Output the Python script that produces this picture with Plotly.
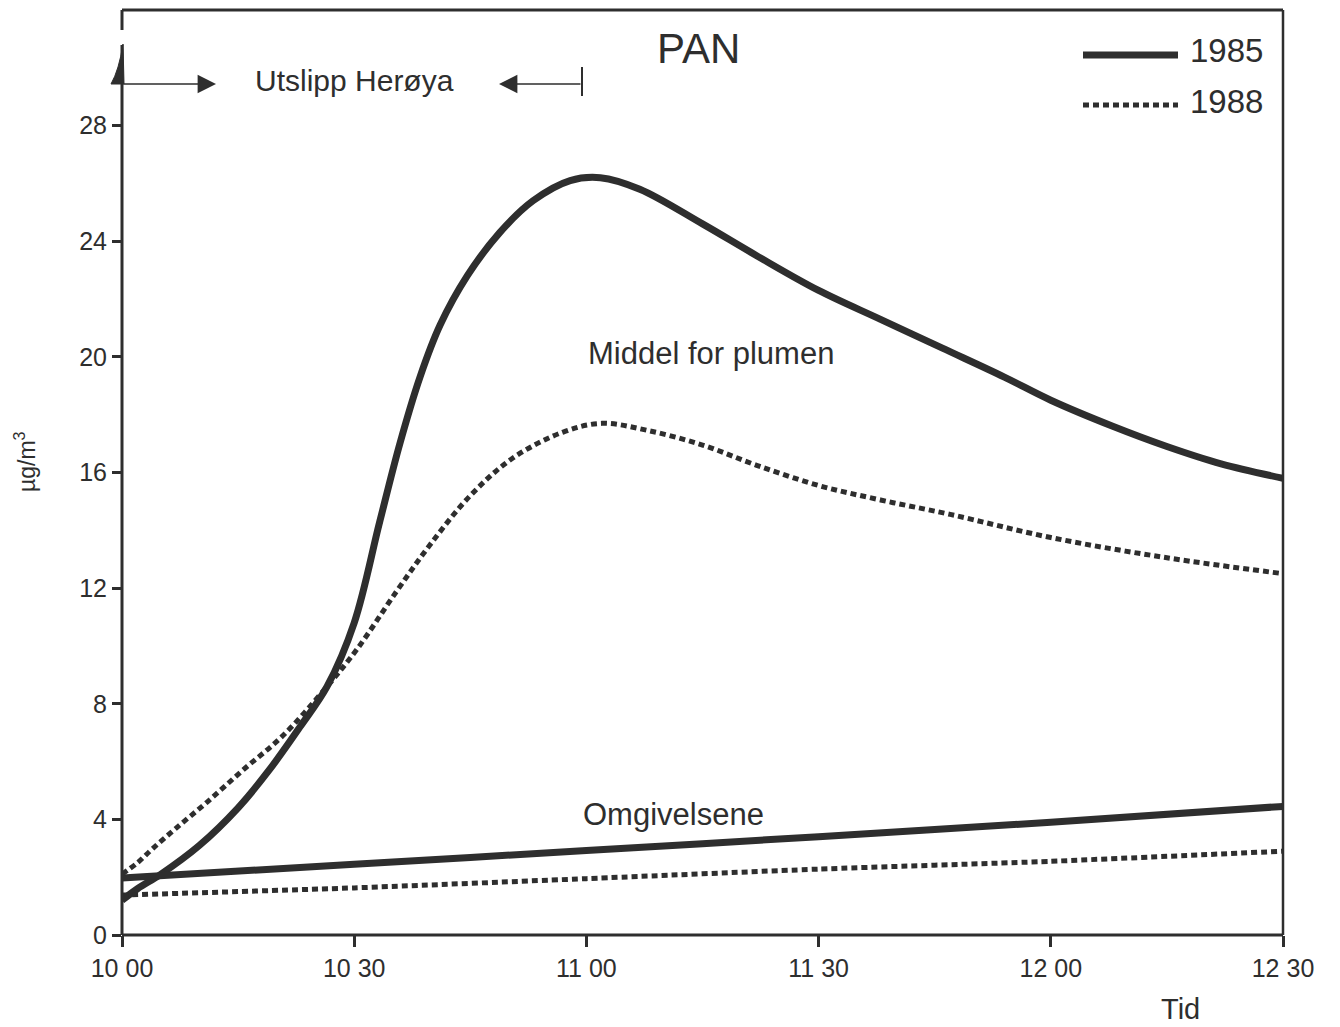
import plotly.graph_objects as go

# ---- data (minutes after 10:00, concentration in µg/m³) ----
plume_1985_t = [0, 2, 5, 10, 15, 19, 23, 26.5, 30, 33.3, 35.9, 38.5, 41.1, 44.6, 48.8, 53.1, 57.9, 61.8, 66.9, 75, 82, 90, 98, 106, 114, 120, 128, 135, 142, 150]
plume_1985_v = [1.2, 1.6, 2.1, 3.1, 4.4, 5.7, 7.2, 8.6, 10.8, 14.3, 17.0, 19.3, 21.1, 22.8, 24.3, 25.4, 26.1, 26.2, 25.8, 24.6, 23.5, 22.3, 21.3, 20.3, 19.3, 18.5, 17.6, 16.9, 16.3, 15.8]

plume_1988_t = [0, 2, 4, 7, 11, 15.6, 20.8, 26.5, 30.4, 35.5, 39.8, 45, 50.5, 57, 62, 68, 75, 82, 90, 98, 107, 120, 135, 150]
plume_1988_v = [2.1, 2.5, 3.0, 3.7, 4.6, 5.7, 6.9, 8.6, 9.9, 11.9, 13.5, 15.2, 16.5, 17.4, 17.7, 17.45, 16.95, 16.25, 15.55, 15.05, 14.55, 13.75, 13.05, 12.5]

amb_1985_t = [0, 30, 60, 90, 120, 150]
amb_1985_v = [1.97, 2.45, 2.92, 3.4, 3.9, 4.45]

amb_1988_t = [0, 30, 60, 90, 120, 150]
amb_1988_v = [1.38, 1.63, 1.95, 2.28, 2.55, 2.9]

x_tickvals = [0, 30, 60, 90, 120, 150]
x_ticktext = ["10 00", "10 30", "11 00", "11 30", "12 00", "12 30"]
y_tickvals = [0, 4, 8, 12, 16, 20, 24, 28]

INK = "#2e2e2e"
FONT = "Liberation Sans, Arial, sans-serif"
SOLID_W = 7
DOT_W = 5
DOT_DASH = "6px,4px"

# plot area in pixels (for placing paper-referenced decorations)
L, R, T, B = 122, 1283, 10, 935


def px(xp):
    return (xp - L) / (R - L)


def py(yp):
    return (B - yp) / (B - T)


fig = go.Figure()
fig.add_trace(go.Scatter(x=plume_1985_t, y=plume_1985_v, mode="lines",
                         line=dict(color=INK, width=SOLID_W, shape="spline", smoothing=1.0),
                         name="1985", showlegend=False))
fig.add_trace(go.Scatter(x=amb_1985_t, y=amb_1985_v, mode="lines",
                         line=dict(color=INK, width=SOLID_W, shape="spline", smoothing=0.6),
                         name="1985 omg", showlegend=False))
fig.add_trace(go.Scatter(x=plume_1988_t, y=plume_1988_v, mode="lines",
                         line=dict(color=INK, width=DOT_W, dash=DOT_DASH, shape="spline", smoothing=1.0),
                         name="1988", showlegend=False))
fig.add_trace(go.Scatter(x=amb_1988_t, y=amb_1988_v, mode="lines",
                         line=dict(color=INK, width=DOT_W, dash=DOT_DASH, shape="spline", smoothing=0.6),
                         name="1988 omg", showlegend=False))

shapes = []
# frame: bottom, right, top, left (left with a break near the top)
shapes.append(dict(type="line", xref="paper", yref="paper", x0=0, x1=1, y0=0, y1=0, line=dict(color=INK, width=3)))
shapes.append(dict(type="line", xref="paper", yref="paper", x0=1, x1=1, y0=0, y1=1, line=dict(color=INK, width=2.5)))
shapes.append(dict(type="line", xref="paper", yref="paper", x0=0, x1=1, y0=1, y1=1, line=dict(color=INK, width=3)))
shapes.append(dict(type="line", xref="paper", yref="paper", x0=0, x1=0, y0=0, y1=py(45), line=dict(color=INK, width=3)))
shapes.append(dict(type="line", xref="paper", yref="paper", x0=0, x1=0, y0=py(30), y1=1, line=dict(color=INK, width=3)))
# small hook at the axis break
shapes.append(dict(type="path", xref="paper", yref="paper",
                   path=f"M {px(111)},{py(84)} Q {px(119)},{py(70)} {px(123)},{py(44)} L {px(124)},{py(84)} Z",
                   fillcolor=INK, line=dict(color=INK, width=1)))
# end bar of emission arrow
shapes.append(dict(type="line", xref="paper", yref="paper", x0=px(582), x1=px(582), y0=py(96), y1=py(67),
                   line=dict(color=INK, width=2)))
# legend samples
shapes.append(dict(type="line", xref="paper", yref="paper",
                   x0=px(1083), x1=px(1178), y0=py(55), y1=py(55),
                   line=dict(color=INK, width=SOLID_W)))
shapes.append(dict(type="line", xref="paper", yref="paper",
                   x0=px(1083), x1=px(1178), y0=py(105), y1=py(105),
                   line=dict(color=INK, width=DOT_W, dash=DOT_DASH)))

annotations = [
    dict(text="PAN", x=px(698), y=py(48), xref="paper", yref="paper",
         xanchor="center", yanchor="middle", showarrow=False, font=dict(size=42, color=INK, family=FONT)),
    dict(text="1985", x=px(1188), y=py(50), xref="paper", yref="paper",
         xanchor="left", yanchor="middle", showarrow=False, font=dict(size=33, color=INK, family=FONT)),
    dict(text="1988", x=px(1188), y=py(102), xref="paper", yref="paper",
         xanchor="left", yanchor="middle", showarrow=False, font=dict(size=33, color=INK, family=FONT)),
    dict(text="Utslipp Herøya", x=px(354), y=py(80), xref="paper", yref="paper",
         xanchor="center", yanchor="middle", showarrow=False, font=dict(size=30, color=INK, family=FONT)),
    dict(text="Middel for plumen", x=px(711), y=py(353), xref="paper", yref="paper",
         xanchor="center", yanchor="middle", showarrow=False, font=dict(size=31, color=INK, family=FONT)),
    dict(text="Omgivelsene", x=px(673), y=py(814), xref="paper", yref="paper",
         xanchor="center", yanchor="middle", showarrow=False, font=dict(size=31, color=INK, family=FONT)),
    dict(text="Tid", x=px(1180), y=py(1009), xref="paper", yref="paper",
         xanchor="center", yanchor="middle", showarrow=False, font=dict(size=29, color=INK, family=FONT)),
    dict(text="µg/m<sup>3</sup>", x=px(25), y=py(462), xref="paper", yref="paper",
         xanchor="center", yanchor="middle", textangle=-90, showarrow=False,
         font=dict(size=23, color=INK, family=FONT)),
    # emission arrows (tail offset in pixels)
    dict(text="", x=px(216), y=py(84), ax=-94, ay=0, xref="paper", yref="paper",
         showarrow=True, arrowhead=2, arrowsize=2.3, arrowwidth=1.6, arrowcolor=INK),
    dict(text="", x=px(499), y=py(84), ax=83, ay=0, xref="paper", yref="paper",
         showarrow=True, arrowhead=2, arrowsize=2.3, arrowwidth=1.6, arrowcolor=INK),
]

fig.update_layout(
    width=1340, height=1027,
    margin=dict(l=L, r=1340 - R, t=T, b=1027 - B),
    paper_bgcolor="white", plot_bgcolor="white",
    font=dict(family=FONT, color=INK),
    shapes=shapes, annotations=annotations,
    showlegend=False,
)
fig.update_xaxes(range=[0, 150], tickvals=x_tickvals, ticktext=x_ticktext,
                 ticks="outside", ticklen=11, tickwidth=3, tickcolor=INK,
                 showgrid=False, zeroline=False, showline=False,
                 tickfont=dict(size=25, color=INK, family=FONT))
fig.update_yaxes(range=[0, 32], tickvals=y_tickvals,
                 ticks="outside", ticklen=9, tickwidth=3, tickcolor=INK,
                 showgrid=False, zeroline=False, showline=False,
                 tickfont=dict(size=25, color=INK, family=FONT))

fig.write_html("out.html")
